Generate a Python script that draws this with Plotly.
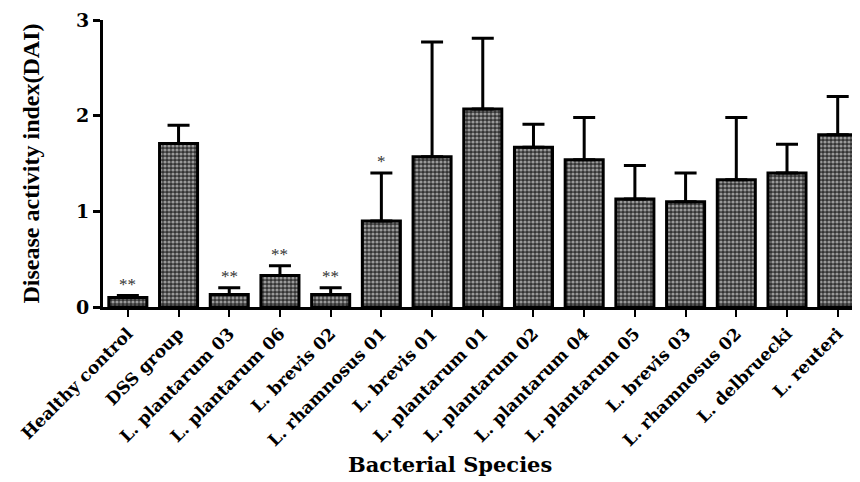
import plotly.graph_objects as go

categories = ["Healthy control", "DSS group", "L. plantarum 03", "L. plantarum 06",
              "L. brevis 02", "L. rhamnosus 01", "L. brevis 01", "L. plantarum 01",
              "L. plantarum 02", "L. plantarum 04", "L. plantarum 05", "L. brevis 03",
              "L. rhamnosus 02", "L. delbruecki", "L. reuteri"]
dai_mean = [0.10, 1.71, 0.13, 0.33, 0.13, 0.90, 1.57, 2.07, 1.67, 1.54, 1.13, 1.10, 1.33, 1.40, 1.80]
dai_sem = [0.02, 0.19, 0.07, 0.10, 0.07, 0.50, 1.20, 0.74, 0.24, 0.44, 0.35, 0.30, 0.65, 0.30, 0.40]
significance = ["**", "", "**", "**", "**", "*", "", "", "", "", "", "", "", "", ""]
y_ticks = [0, 1, 2, 3]

fig = go.Figure()
fig.add_trace(go.Bar(
    x=categories, y=dai_mean,
    width=0.75,
    marker=dict(
        color="#333333",
        line=dict(color="black", width=3),
        pattern=dict(shape=".", bgcolor="#333333", fgcolor="#ffffff", size=4, solidity=0.5),
    ),
    error_y=dict(type="data", symmetric=False, array=dai_sem, arrayminus=[0] * len(dai_sem),
                 color="black", thickness=3, width=11),
))

for cat, m, e, s in zip(categories, dai_mean, dai_sem, significance):
    if s:
        fig.add_annotation(x=cat, y=m + e, text=s, showarrow=False, yanchor="bottom", yshift=0,
                           font=dict(family="Liberation Serif", size=17, color="#333333"))

fig.add_annotation(xref="paper", yref="paper", x=0.459, y=-0.55, text="<b>Bacterial Species</b>",
                   showarrow=False, xanchor="center", yanchor="middle",
                   font=dict(family="DejaVu Serif", size=21, color="black"))

fig.update_layout(
    width=852, height=474,
    margin=dict(l=95, r=1, t=12, b=175),
    paper_bgcolor="white", plot_bgcolor="white",
    showlegend=False,
    bargap=0.25,
)
fig.update_xaxes(
    range=[-0.49, 14.42], showline=True, linewidth=3, linecolor="black",
    ticks="outside", ticklen=7, tickwidth=2, tickcolor="black",
    tickangle=-45, tickfont=dict(family="DejaVu Serif", size=17, color="black", weight="bold"),
    showgrid=False, zeroline=False, automargin=False,
)
fig.update_yaxes(
    range=[0, 3], tickvals=y_ticks, showline=True, linewidth=3, linecolor="black",
    ticks="outside", ticklen=7, tickwidth=3, tickcolor="black",
    tickfont=dict(family="DejaVu Serif", size=19, color="black", weight="bold"),
    showgrid=False, zeroline=False, automargin=False,
    title=dict(text="<b>Disease activity index(DAI)</b>", standoff=30,
               font=dict(family="Liberation Serif", size=24, color="black")),
)

fig.write_html("out.html")
